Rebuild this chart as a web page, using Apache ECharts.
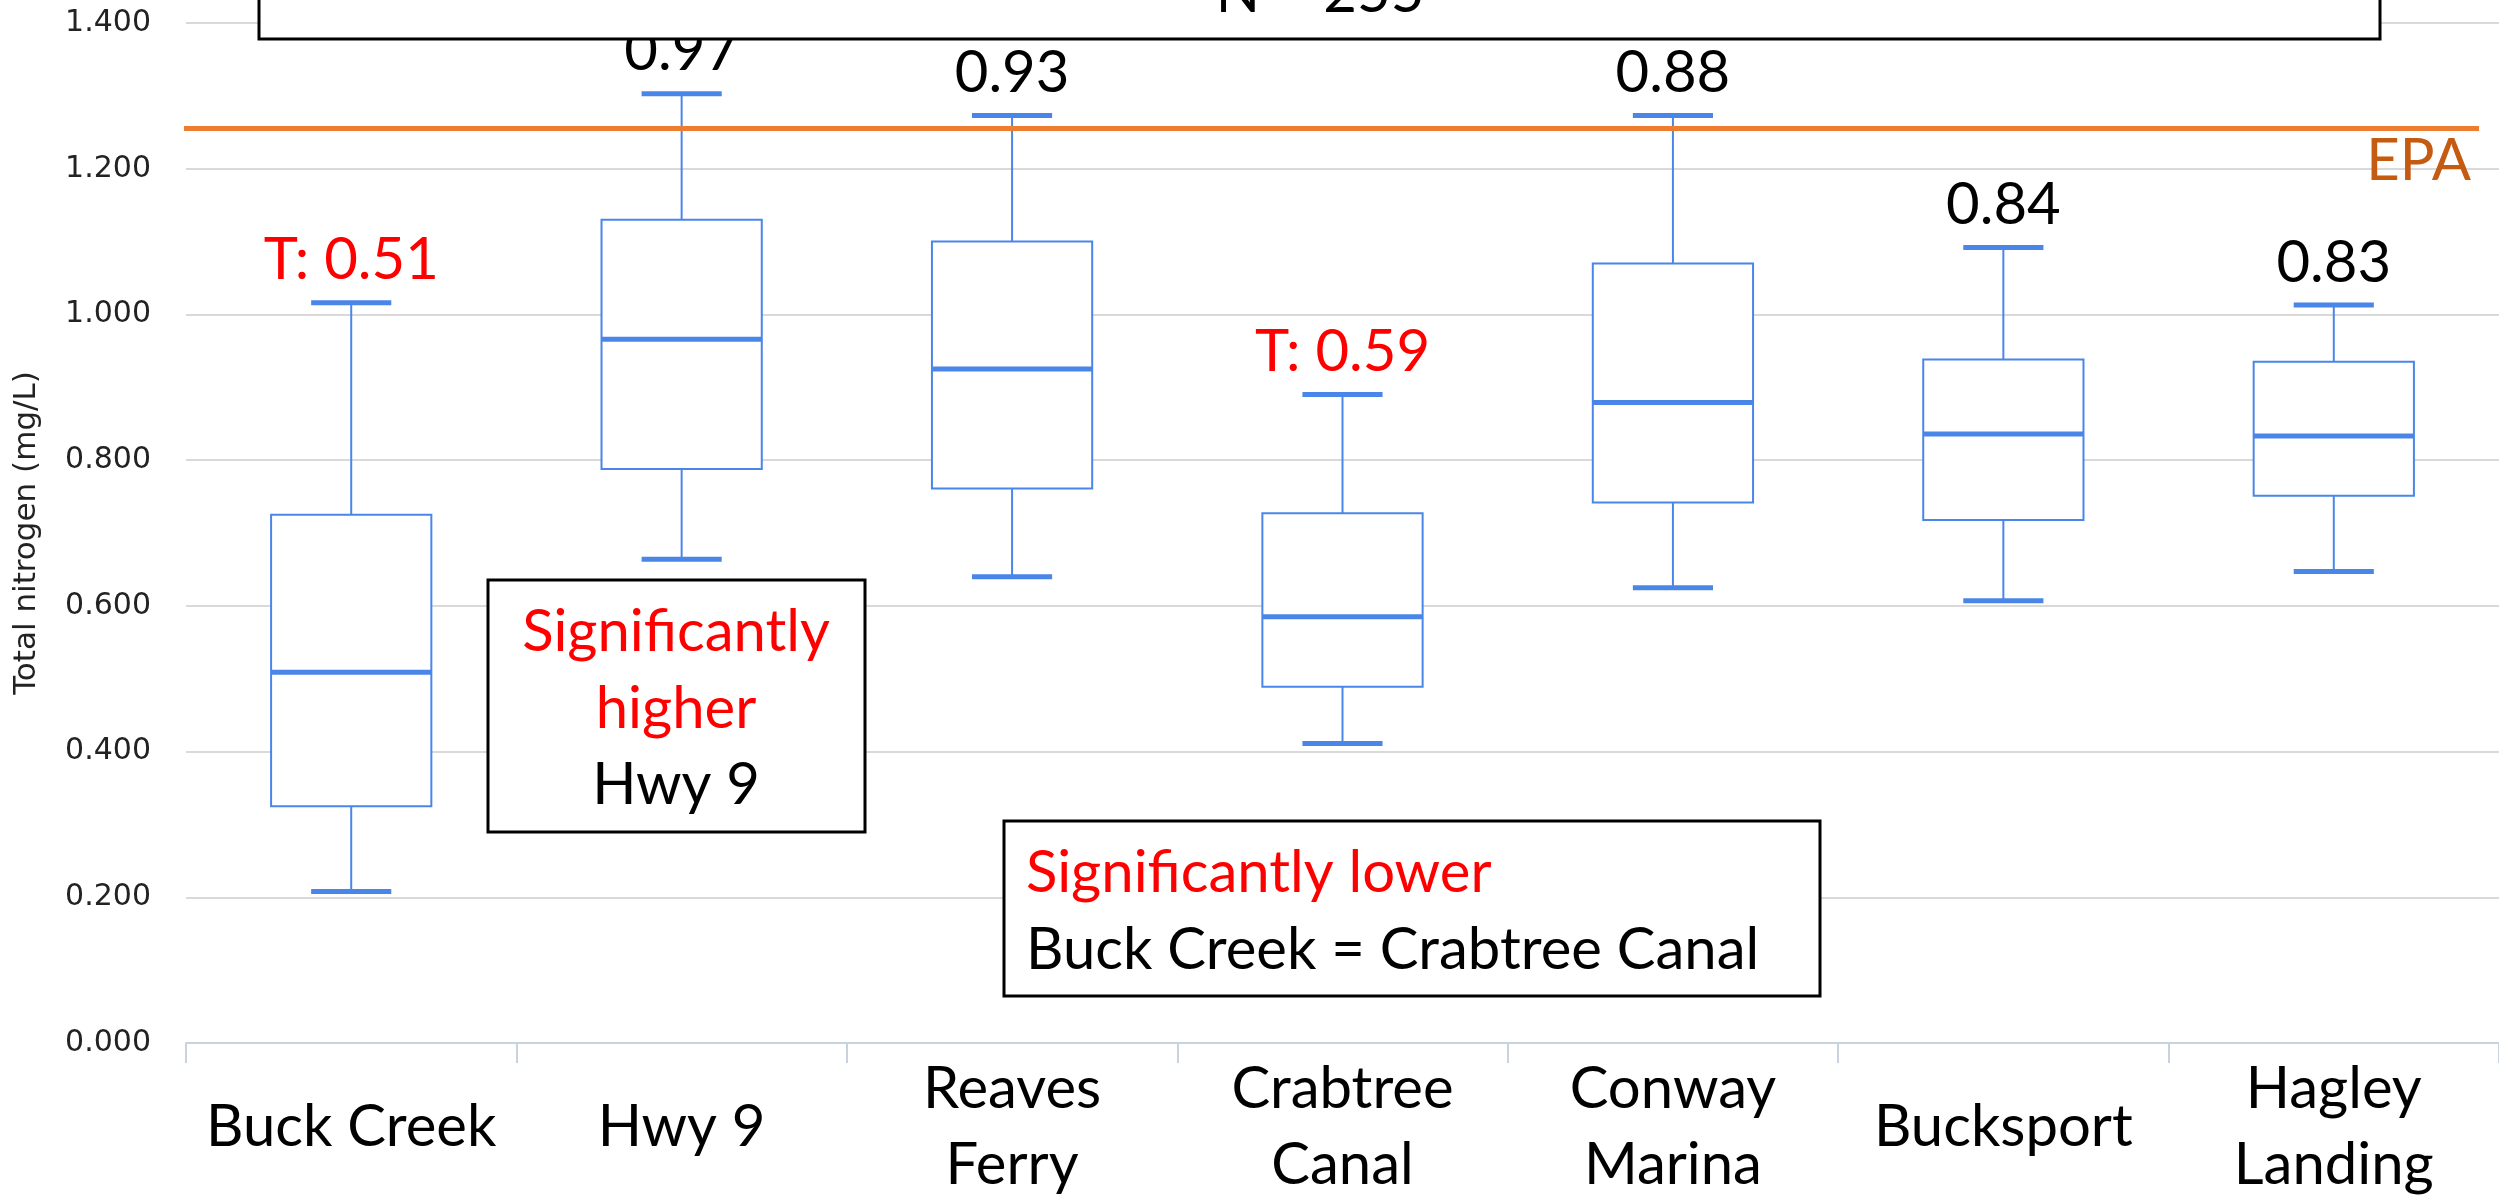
<!DOCTYPE html>
<html>
<head>
<meta charset="utf-8">
<script src="https://cdn.jsdelivr.net/npm/echarts@6/dist/echarts.min.js"></script>
<style>
  html, body { margin: 0; padding: 0; background: #fff; }
  #chart { width: 2499px; height: 1203px; }
</style>
</head>
<body>
<div id="chart"></div>
<script>
// sites along the river
const sites = ['Buck Creek', 'Hwy 9', 'Reaves\nFerry', 'Crabtree\nCanal', 'Conway\nMarina', 'Bucksport', 'Hagley\nLanding'];

// box plot stats, total nitrogen (mg/L)
const lowerWhisker = [0.208, 0.664, 0.640, 0.411, 0.625, 0.607, 0.647];
const q1 = [0.325, 0.788, 0.761, 0.489, 0.742, 0.718, 0.751];
const median = [0.509, 0.966, 0.925, 0.585, 0.879, 0.836, 0.833];
const q3 = [0.725, 1.130, 1.100, 0.727, 1.070, 0.938, 0.935];
const upperWhisker = [1.016, 1.303, 1.273, 0.890, 1.273, 1.092, 1.013];

// text above each box
const topLabels = ['T: 0.51', '0.97', '0.93', 'T: 0.59', '0.88', '0.84', '0.83'];
const topLabelColors = ['#ff0000', '#000', '#000', '#ff0000', '#000', '#000', '#000'];

const epaLimit = 1.255;

const BLUE = '#4a86e8';
const BIG_FONT = '58px Lato';

const chart = echarts.init(document.getElementById('chart'));

const data = sites.map((s, i) => [i, lowerWhisker[i], q1[i], median[i], q3[i], upperWhisker[i]]);

function renderBox(params, api) {
  const i = api.value(0);
  const lo = api.coord([i, api.value(1)]);
  const b1 = api.coord([i, api.value(2)]);
  const md = api.coord([i, api.value(3)]);
  const b3 = api.coord([i, api.value(4)]);
  const hi = api.coord([i, api.value(5)]);
  const band = api.size([1, 0])[0];
  const cx = lo[0];
  const boxW = band * 0.485;
  const capW = boxW / 2;
  return {
    type: 'group',
    children: [
      { type: 'line', shape: { x1: cx, y1: hi[1], x2: cx, y2: b3[1] }, style: { stroke: BLUE, lineWidth: 2 } },
      { type: 'line', shape: { x1: cx, y1: b1[1], x2: cx, y2: lo[1] }, style: { stroke: BLUE, lineWidth: 2 } },
      {
        type: 'rect',
        shape: { x: cx - boxW / 2, y: b3[1], width: boxW, height: b1[1] - b3[1] },
        style: { fill: '#fff', stroke: BLUE, lineWidth: 2 }
      },
      { type: 'line', shape: { x1: cx - boxW / 2, y1: md[1], x2: cx + boxW / 2, y2: md[1] }, style: { stroke: BLUE, lineWidth: 5 } },
      { type: 'line', shape: { x1: cx - capW / 2, y1: hi[1], x2: cx + capW / 2, y2: hi[1] }, style: { stroke: BLUE, lineWidth: 5 } },
      { type: 'line', shape: { x1: cx - capW / 2, y1: lo[1], x2: cx + capW / 2, y2: lo[1] }, style: { stroke: BLUE, lineWidth: 5 } },
      {
        type: 'text',
        x: cx,
        y: hi[1] - 42,
        style: {
          text: topLabels[params.dataIndex],
          fill: topLabelColors[params.dataIndex],
          font: BIG_FONT,
          align: 'center',
          verticalAlign: 'middle'
        }
      }
    ]
  };
}

const option = {
  backgroundColor: '#fff',
  animation: false,
  grid: { left: 186, right: -4, top: 23, bottom: 158 },
  xAxis: {
    type: 'category',
    data: sites,
    boundaryGap: true,
    axisLine: { lineStyle: { color: '#c9d3df', width: 2 } },
    axisTick: { show: true, length: 20, lineStyle: { color: '#c9d3df', width: 2 } },
    axisLabel: {
      interval: 0,
      fontFamily: 'Lato',
      fontSize: 58,
      color: '#000',
      lineHeight: 76,
      margin: 84,
      verticalAlign: 'middle'
    },
    splitLine: { show: false }
  },
  yAxis: {
    type: 'value',
    min: 0,
    max: 1.4,
    interval: 0.2,
    name: 'Total nitrogen (mg/L)',
    nameLocation: 'middle',
    nameGap: 144,
    nameTextStyle: { fontFamily: 'DejaVu Sans', fontSize: 31, color: '#222' },
    axisLine: { show: false },
    axisTick: { show: false },
    axisLabel: {
      formatter: v => v.toFixed(3),
      fontFamily: 'DejaVu Sans',
      fontSize: 30,
      color: '#222',
      margin: 35
    },
    splitLine: { lineStyle: { color: '#d9d9d9', width: 2 } }
  },
  series: [{
    type: 'custom',
    renderItem: renderBox,
    data: data,
    encode: { x: 0, y: [1, 2, 3, 4, 5] },
    markLine: {
      silent: true,
      symbol: 'none',
      lineStyle: { color: '#ed7d31', width: 5, type: 'solid' },
      label: {
        formatter: 'EPA',
        position: 'insideEndBottom',
        color: '#c55a11',
        fontFamily: 'Lato',
        fontSize: 58,
        distance: [8, 4]
      },
      data: [[{ x: 184, yAxis: epaLimit }, { x: 2479, yAxis: epaLimit }]]
    }
  }],
  graphic: [
    // sample count box, mostly cut off at top
    {
      type: 'rect', z: 100,
      shape: { x: 259, y: -20, width: 2121, height: 59 },
      style: { fill: '#fff', stroke: '#000', lineWidth: 3 }
    },
    {
      type: 'text', z: 101, x: 1320, y: -7,
      style: { text: 'N = 255', font: BIG_FONT, fill: '#000', align: 'center', verticalAlign: 'middle' }
    },
    // significantly higher note
    {
      type: 'rect', z: 100,
      shape: { x: 488, y: 580, width: 377, height: 252 },
      style: { fill: '#fff', stroke: '#000', lineWidth: 3 }
    },
    {
      type: 'text', z: 101, x: 676, y: 632,
      style: { text: 'Significantly', font: BIG_FONT, fill: '#ff0000', align: 'center', verticalAlign: 'middle' }
    },
    {
      type: 'text', z: 101, x: 676, y: 709,
      style: { text: 'higher', font: BIG_FONT, fill: '#ff0000', align: 'center', verticalAlign: 'middle' }
    },
    {
      type: 'text', z: 101, x: 676, y: 785,
      style: { text: 'Hwy 9', font: BIG_FONT, fill: '#000', align: 'center', verticalAlign: 'middle' }
    },
    // significantly lower note
    {
      type: 'rect', z: 100,
      shape: { x: 1004, y: 821, width: 816, height: 175 },
      style: { fill: '#fff', stroke: '#000', lineWidth: 3 }
    },
    {
      type: 'text', z: 101, x: 1026, y: 873,
      style: { text: 'Significantly lower', font: BIG_FONT, fill: '#ff0000', align: 'left', verticalAlign: 'middle' }
    },
    {
      type: 'text', z: 101, x: 1026, y: 950,
      style: { text: 'Buck Creek = Crabtree Canal', font: BIG_FONT, fill: '#000', align: 'left', verticalAlign: 'middle' }
    }
  ]
};

chart.setOption(option);
</script>
</body>
</html>
